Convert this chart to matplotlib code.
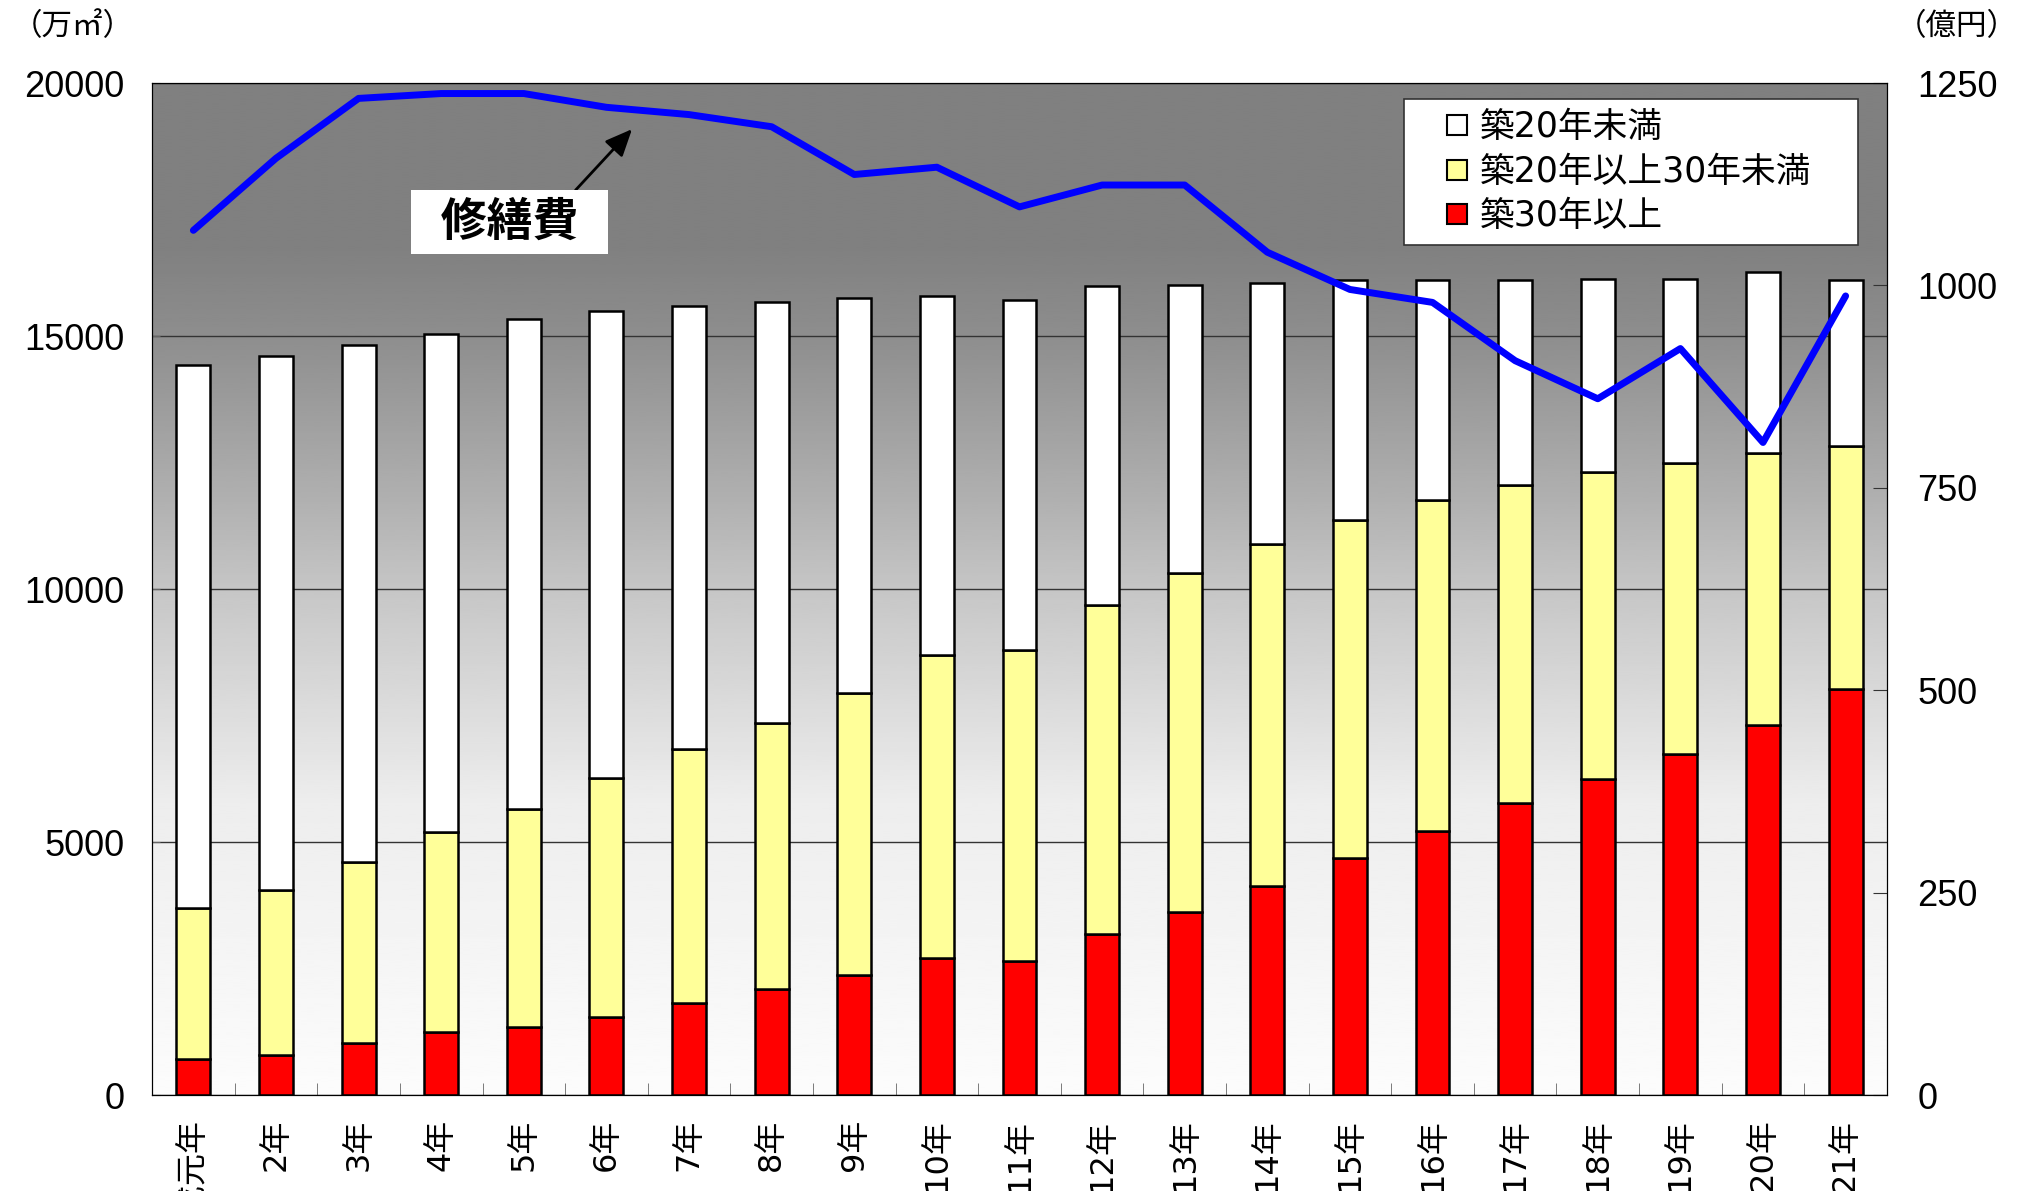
import matplotlib
matplotlib.use('Agg')
import matplotlib.pyplot as plt
from matplotlib.lines import Line2D
import numpy as np

plt.rcParams['font.family'] = ['Noto Sans CJK JP', 'DejaVu Sans']
wide = ['DejaVu Sans', 'Noto Sans CJK JP']  # wider digits, CJK falls back

# 年次 (平成)
years = ['平成元年'] + ['%d年' % i for i in range(2, 22)]

# 床面積 (万㎡) : 築30年以上 / 築20年以上30年未満 / 築20年未満
over30 = [710, 790, 1020, 1250, 1350, 1550, 1810, 2090, 2370, 2700, 2650,
          3190, 3620, 4130, 4690, 5220, 5780, 6240, 6730, 7310, 8030]
mid20_30 = [2990, 3260, 3590, 3950, 4310, 4720, 5020, 5270, 5580, 5990, 6140,
            6490, 6700, 6750, 6670, 6530, 6270, 6070, 5760, 5380, 4790]
under20 = [10720, 10550, 10220, 9830, 9680, 9220, 8760, 8310, 7800, 7110, 6930,
           6300, 5680, 5170, 4740, 4350, 4050, 3820, 3640, 3570, 3280]

# 修繕費 (億円)
repair = [1068, 1157, 1231, 1237, 1237, 1220, 1211, 1196, 1137, 1146, 1097,
          1124, 1124, 1041, 995, 979, 907, 860, 922, 806, 987]

legend_labels = ['築20年未満', '築20年以上30年未満', '築30年以上']

x = np.arange(len(years))
over30 = np.array(over30)
mid20_30 = np.array(mid20_30)
under20 = np.array(under20)

fig = plt.figure(figsize=(20.22, 11.91), dpi=100)
ax = fig.add_axes([0.0752, 0.0806, 0.858, 0.8497])

# background gradient (dark gray top -> white bottom)
fr = np.linspace(0, 1, 400)
gray = np.interp(fr, [0.0, 0.29, 0.49, 0.59, 0.75, 0.84, 1.0],
                 [252, 237, 200, 176, 142, 128, 128])
ax.imshow(gray[::-1].reshape(-1, 1), cmap='gray', vmin=0, vmax=255,
          extent=[-0.5, 20.5, 0, 20000], aspect='auto', zorder=0,
          interpolation='bilinear')

w = 0.41
ax.bar(x, over30, w, color='#ff0000', edgecolor='black', lw=1.8, zorder=2)
ax.bar(x, mid20_30, w, bottom=over30, color='#ffff99', edgecolor='black', lw=1.8, zorder=2)
ax.bar(x, under20, w, bottom=over30 + mid20_30, color='white', edgecolor='black', lw=1.8, zorder=2)

ax.set_xlim(-0.5, 20.5)
ax.set_ylim(0, 20000)
ax.set_yticks([0, 5000, 10000, 15000, 20000])
ax.set_axisbelow(True)
ax.yaxis.grid(True, color='#333333', lw=1.0)
ax.tick_params(axis='y', direction='in', length=6, color='#666666', pad=20)
ax.set_xticks(x)
ax.set_xticklabels(years, rotation=90, va='top', ha='center', fontsize=23,
                   family=wide)
ax.set_xticks(np.arange(0.5, 20, 1), minor=True)
ax.tick_params(axis='x', which='major', length=0, pad=17)
ax.tick_params(axis='x', which='minor', direction='in', length=9, color='#666666')
for lab in ax.get_yticklabels():
    lab.set_family('Liberation Sans')
    lab.set_fontsize(26)

ax2 = ax.twinx()
ax2.plot(x, repair, color='#0000ff', lw=5, solid_capstyle='round',
         solid_joinstyle='round', zorder=5)
ax2.set_ylim(0, 1250)
ax2.set_yticks([0, 250, 500, 750, 1000, 1250])
ax2.tick_params(axis='y', direction='in', length=10, color='#333333', pad=22)
for lab in ax2.get_yticklabels():
    lab.set_family('Liberation Sans')
    lab.set_fontsize(26)

ax2.annotate('  修繕費  ', xy=(5.31, 1193), xytext=(3.83, 1078),
             fontsize=33, fontweight='bold', ha='center', va='center',
             bbox=dict(boxstyle='square,pad=0.2', fc='white', ec='none'),
             arrowprops=dict(arrowstyle='-|>,head_length=0.5,head_width=0.22',
                             color='black', lw=2.0, relpos=(0.82, 1.0),
                             shrinkA=0, shrinkB=0),
             zorder=6)

handles = [Line2D([], [], ls='none', marker='s', markersize=15, mfc=c,
                  mec='black', mew=1.5) for c in ['white', '#ffff99', '#ff0000']]
leg = ax2.legend(handles, legend_labels,
                 loc='upper left', bbox_to_anchor=(0.7216, 0.5, 0.2617, 0.4842),
                 mode='expand', borderaxespad=0,
                 prop={'family': wide, 'size': 25},
                 handlelength=2.4, handletextpad=-0.55, labelspacing=0.3,
                 fancybox=False, framealpha=1, edgecolor='#333333',
                 borderpad=0.33)
leg.get_frame().set_linewidth(1.2)
leg.set_zorder(7)

fig.text(0.006, 0.978, '（万㎡）', fontsize=22, va='center', ha='left')
fig.text(0.998, 0.978, '（億円）', fontsize=22, va='center', ha='right')

fig.savefig('out.png', dpi=100)
